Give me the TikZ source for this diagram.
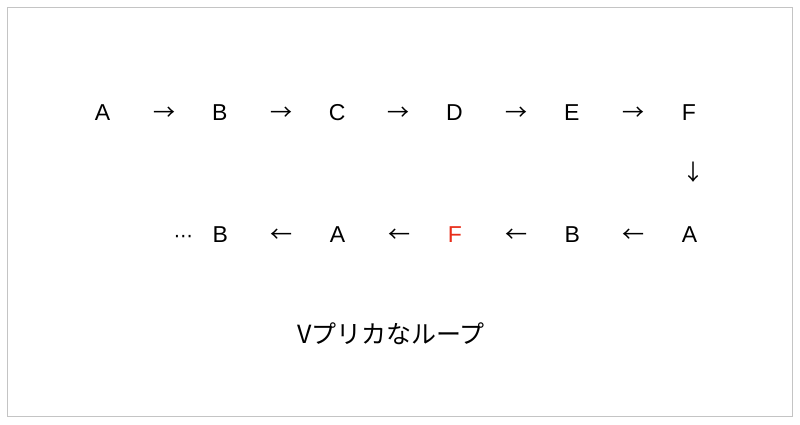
\documentclass[tikz,border=0pt]{standalone}
\usepackage{fontspec}
\setmainfont{Liberation Sans}
\newfontfamily\jpfont{Noto Sans CJK JP}
\newfontfamily\symfont{DejaVu Sans}
\usepackage{tikz}
\usetikzlibrary{positioning}
\definecolor{loopred}{RGB}{232,45,25}
\definecolor{framegray}{RGB}{196,196,196}
\newcommand{\ra}{{\jpfont\fontsize{22}{22}\selectfont\kern6pt →}}
\newcommand{\la}{{\jpfont\fontsize{22}{22}\selectfont\kern6pt ←}}

\begin{document}
\begin{tikzpicture}[x=1pt, y=-1pt, node distance = 58.65pt,
    every node/.style = {inner sep=0pt, text height=16pt, text depth=0pt,
      font=\fontsize{23}{23}\selectfont}]
    \useasboundingbox (0,0) rectangle (800,424);
    \draw[framegray] (7.5,7.5) rectangle (792.5,416.5);

    % upper row
    \node (a0) at (102.5,112) {A};
    \node[right of = a0] (r0) {\ra};
    \node[right of = r0] (b0) {B};
    \node[right of = b0] (r1) {\ra};
    \node[right of = r1] (c0) {C};
    \node[right of = c0] (r2) {\ra};
    \node[right of = r2] (d0) {D};
    \node[right of = d0] (r3) {\ra};
    \node[right of = r3] (e0) {E};
    \node[right of = e0] (r4) {\ra};
    \node[right of = r4] (f0) {F};
    \node[below of = f0, xshift=4pt, yshift=-2pt] (down) {{\jpfont\fontsize{22}{22}\selectfont ↓}};

    % lower row
    \node (a1) at (689.5,234) {A};
    \node[left of = a1] (l0) {\la};
    \node[left of = l0] (b1) {B};
    \node[left of = b1] (l1) {\la};
    \node[left of = l1, text=loopred] (f1) {F};
    \node[left of = f1] (l2) {\la};
    \node[left of = l2] (a2) {A};
    \node[left of = a2] (l3) {\la};
    \node[left of = l3] (b2) {B};
    \node[node distance = 37pt, left of = b2] (dots) {{\symfont\fontsize{19}{19}\selectfont ⋯}};

    \node[font=\fontsize{25}{25}\selectfont] (title) at (391,335) {\jpfont Vプリカなループ};
  \end{tikzpicture}
\end{document}
